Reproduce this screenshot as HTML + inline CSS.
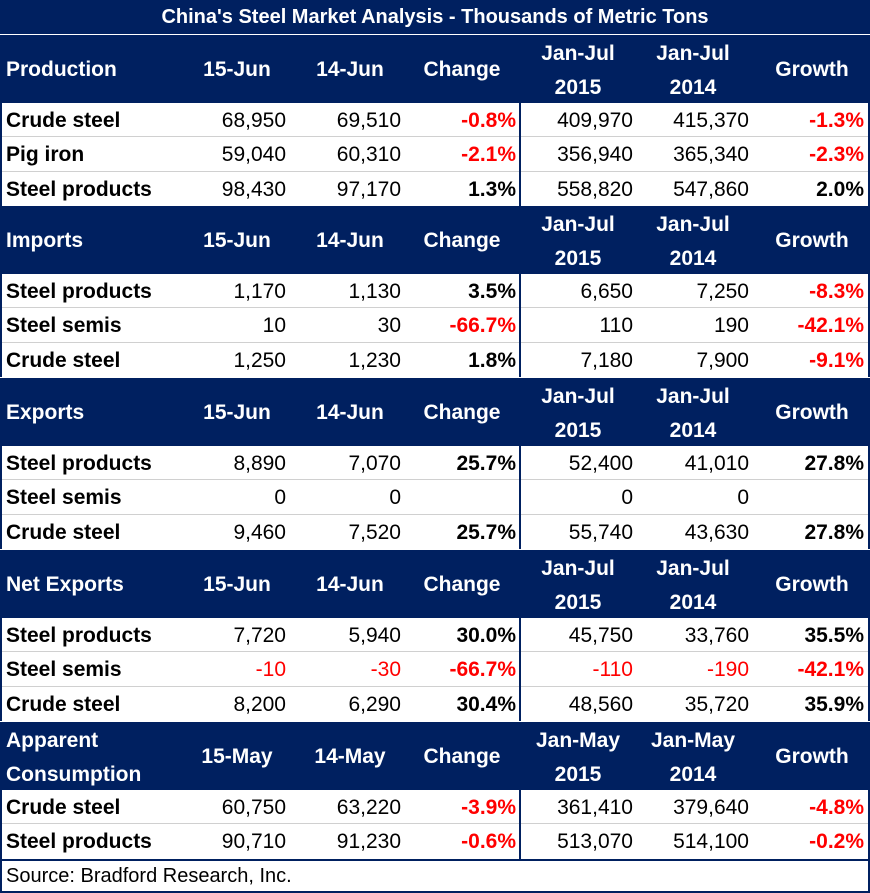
<!DOCTYPE html>
<html><head><meta charset="utf-8"><style>
body{margin:0;width:870px;height:893px;background:#fff;font-family:"Liberation Sans",sans-serif;overflow:hidden}
#t{position:relative;width:870px;height:893px}
.c{position:absolute;white-space:nowrap;line-height:1}
.navy{position:absolute;background:#002060}
</style></head><body>
<div id="t"></div>
<script>
const title = "China's Steel Market Analysis - Thousands of Metric Tons";
const sections = [
 {h:["Production","15-Jun","14-Jun","Change","Jan-Jul|2015","Jan-Jul|2014","Growth"],rows:[
  ["Crude steel","68,950","69,510","-0.8%","409,970","415,370","-1.3%"],
  ["Pig iron","59,040","60,310","-2.1%","356,940","365,340","-2.3%"],
  ["Steel products","98,430","97,170","1.3%","558,820","547,860","2.0%"]]},
 {h:["Imports","15-Jun","14-Jun","Change","Jan-Jul|2015","Jan-Jul|2014","Growth"],rows:[
  ["Steel products","1,170","1,130","3.5%","6,650","7,250","-8.3%"],
  ["Steel semis","10","30","-66.7%","110","190","-42.1%"],
  ["Crude steel","1,250","1,230","1.8%","7,180","7,900","-9.1%"]]},
 {h:["Exports","15-Jun","14-Jun","Change","Jan-Jul|2015","Jan-Jul|2014","Growth"],rows:[
  ["Steel products","8,890","7,070","25.7%","52,400","41,010","27.8%"],
  ["Steel semis","0","0","","0","0",""],
  ["Crude steel","9,460","7,520","25.7%","55,740","43,630","27.8%"]]},
 {h:["Net Exports","15-Jun","14-Jun","Change","Jan-Jul|2015","Jan-Jul|2014","Growth"],rows:[
  ["Steel products","7,720","5,940","30.0%","45,750","33,760","35.5%"],
  ["Steel semis","-10","-30","-66.7%","-110","-190","-42.1%"],
  ["Crude steel","8,200","6,290","30.4%","48,560","35,720","35.9%"]]},
 {h:["Apparent|Consumption","15-May","14-May","Change","Jan-May|2015","Jan-May|2014","Growth"],rows:[
  ["Crude steel","60,750","63,220","-3.9%","361,410","379,640","-4.8%"],
  ["Steel products","90,710","91,230","-0.6%","513,070","514,100","-0.2%"]]}
];
const T=document.getElementById('t');
const colR=[0,286,401,516,633,749,864];
const colC=[0,237,350,462,578,693,812];
function box(x,y,w,h,bg,name){const d=document.createElement('div');d.className='navy';d.style.cssText+=`left:${x}px;top:${y}px;width:${w}px;height:${h}px;background:${bg}`;


T.appendChild(d);return d;}
function txt(s,x,y,opt,name){const d=document.createElement('div');d.className='c';d.textContent=s;
d.style.top=y+'px';d.style.fontSize=(opt.fs||21)+'px';d.style.fontWeight=opt.b?'bold':'normal';d.style.color=opt.col||'#000';
if(opt.al==='r'){d.style.right=(870-x)+'px';}else if(opt.al==='c'){const w=opt.w||200;d.style.left=(x-w/2)+'px';d.style.width=w+'px';d.style.textAlign='center';}else d.style.left=x+'px';


T.appendChild(d);}
box(0,0,870,34,'#002060','title-bar');
txt(title,435,7,{b:1,col:'#fff',al:'c',fs:20,w:870},'table-title');
box(0,34,870,1,'#fff','title-divider');
const starts=[35,206,378,550,722];
const RH=34.4;
sections.forEach((s,si)=>{
 const y0=starts[si];
 box(0,y0,870,68,'#002060','section-header-'+si);
 s.h.forEach((h,ci)=>{
  const parts=h.split('|');
  if(ci===0){parts.forEach((p,pi)=>txt(p,6,parts.length>1?y0+8+pi*34:y0+24,{b:1,col:'#fff'},'header-label'));}
  else if(parts.length>1){parts.forEach((p,pi)=>txt(p,colC[ci],y0+8+pi*34,{b:1,col:'#fff',al:'c'},'header-col'));}
  else txt(h,colC[ci],y0+24,{b:1,col:'#fff',al:'c'},'header-col');
 });
 s.rows.forEach((r,ri)=>{
  const y=y0+68+ri*RH;
  if(ri>0) box(2,Math.round(y)-1,866,1,'#d0d0d0','row-divider');
  r.forEach((v,ci)=>{
   if(ci===0){txt(v,6,y+7,{b:1},'row-label');return;}
   const pct=ci===3||ci===6;
   const neg=v.startsWith('-');
   txt(v,colR[ci],y+7,{b:pct,col:neg?'#ff0000':'#000',al:'r'},'cell-value');
  });
 });
 const ry=y0+68, rh=s.rows.length*RH;
 box(519,ry,2,rh,'#002060','vertical-divider');
 box(0,ry,2,rh,'#002060','left-border');
 box(868,ry,2,rh,'#002060','right-border');
});
box(0,859,870,2,'#002060','source-top-border');
box(0,859,2,34,'#002060','source-left-border');
box(868,859,2,34,'#002060','source-right-border');
box(0,891,870,2,'#002060','source-bottom-border');
txt('Source: Bradford Research, Inc.',6,866,{fs:20},'source-note');
</script>
</body></html>
